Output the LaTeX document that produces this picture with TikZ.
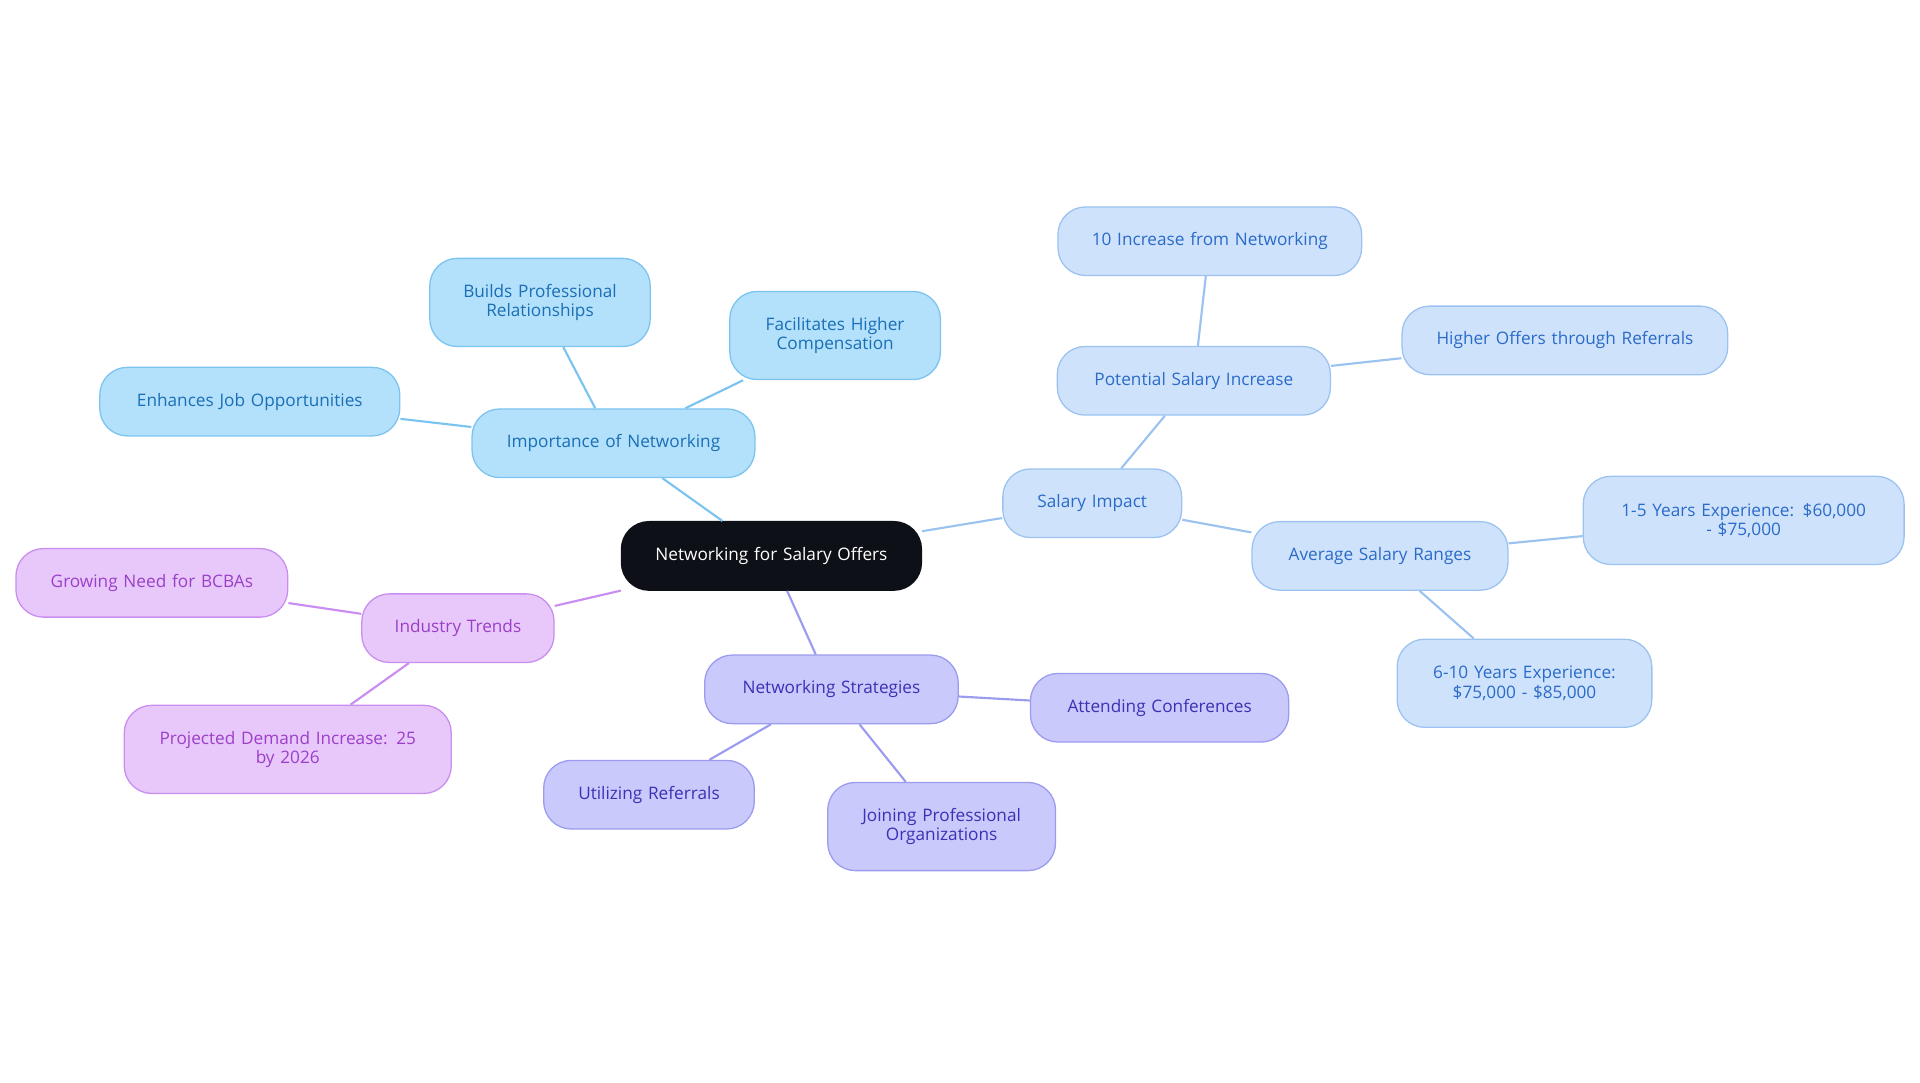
\documentclass[tikz,border=0pt]{standalone}
\usepackage{fontspec}
\setmainfont{Open Sans}
\definecolor{rootfill}{HTML}{0D1117}
\definecolor{bfill}{HTML}{B3E0FB}\definecolor{bline}{HTML}{7CC4F0}\definecolor{btext}{HTML}{1A6FB5}
\definecolor{sfill}{HTML}{CFE2FB}\definecolor{sline}{HTML}{9CC3F0}\definecolor{stext}{HTML}{2A6BC9}
\definecolor{pfill}{HTML}{E8C8FA}\definecolor{pline}{HTML}{C98EF0}\definecolor{ptext}{HTML}{9B3FC9}
\definecolor{ifill}{HTML}{C9C9FB}\definecolor{iline}{HTML}{9B9BF0}\definecolor{itext}{HTML}{3A32B5}
\begin{document}
\begin{tikzpicture}[x=0.02cm,y=-0.02cm,
    box/.style={rounded corners=0.45cm, inner sep=0pt, align=center,
      font=\fontsize{8}{9}\selectfont, line width=0.6pt},
    rootbox/.style={box, fill=rootfill, draw=rootfill, text=white},
    netbox/.style={box, fill=bfill, draw=bline, text=btext},
    salbox/.style={box, fill=sfill, draw=sline, text=stext},
    trendbox/.style={box, fill=pfill, draw=pline, text=ptext},
    stratbox/.style={box, fill=ifill, draw=iline, text=itext},
    sz/.style 2 args={minimum width=#1*0.02cm, minimum height=#2*0.02cm, text width=(#1-30)*0.02cm}]
  \useasboundingbox (0,0) rectangle (1568,884);
  % nodes
  \node[rootbox, sz={245}{56}] (root) at (630,454) {Networking for Salary Offers};
  \node[netbox, sz={231}{56}] (imp) at (501,362) {Importance of Networking};
  \node[netbox, sz={180}{72}] (build) at (441,247) {Builds Professional\\Relationships};
  \node[netbox, sz={172}{72}] (facil) at (682,274) {Facilitates Higher\\Compensation};
  \node[netbox, sz={245}{56}] (enh) at (204,328) {Enhances Job Opportunities};
  \node[salbox, sz={146}{56}] (sal) at (892,411) {Salary Impact};
  \node[salbox, sz={223}{56}] (pot) at (975,311) {Potential Salary Increase};
  \node[salbox, sz={248}{56}] (ten) at (988,197) {10 Increase from Networking};
  \node[salbox, sz={266}{56}] (ref) at (1278,278) {Higher Offers through Referrals};
  \node[salbox, sz={209}{56}] (avg) at (1127,454) {Average Salary Ranges};
  \node[salbox, sz={262}{72}] (one) at (1424,425) {1-5 Years Experience: \$60,000\\- \$75,000};
  \node[salbox, sz={208}{72}] (six) at (1245,558) {6-10 Years Experience:\\\$75,000 - \$85,000};
  \node[trendbox, sz={157}{56}] (ind) at (374,513) {Industry Trends};
  \node[trendbox, sz={222}{56}] (grow) at (124,476) {Growing Need for BCBAs};
  \node[trendbox, sz={267}{72}] (proj) at (235,612) {Projected Demand Increase: 25\\by 2026};
  \node[stratbox, sz={207}{56}] (strat) at (679,563) {Networking Strategies};
  \node[stratbox, sz={211}{56}] (conf) at (947,578) {Attending Conferences};
  \node[stratbox, sz={172}{56}] (util) at (530,649) {Utilizing Referrals};
  \node[stratbox, sz={186}{72}] (join) at (769,675) {Joining Professional\\Organizations};
  % connectors
  \begin{scope}[on background layer/.style={}, line width=1pt]
    \draw[bline] (root) -- (imp);
    \draw[bline] (imp) -- (build);
    \draw[bline] (imp) -- (facil);
    \draw[bline] (imp) -- (enh);
    \draw[sline] (root) -- (sal);
    \draw[sline] (sal) -- (pot);
    \draw[sline] (pot) -- (ten);
    \draw[sline] (pot) -- (ref);
    \draw[sline] (sal) -- (avg);
    \draw[sline] (avg) -- (one);
    \draw[sline] (avg) -- (six);
    \draw[pline] (root) -- (ind);
    \draw[pline] (ind) -- (grow);
    \draw[pline] (ind) -- (proj);
    \draw[iline] (root) -- (strat);
    \draw[iline] (strat) -- (conf);
    \draw[iline] (strat) -- (util);
    \draw[iline] (strat) -- (join);
  \end{scope}
\end{tikzpicture}
\end{document}
